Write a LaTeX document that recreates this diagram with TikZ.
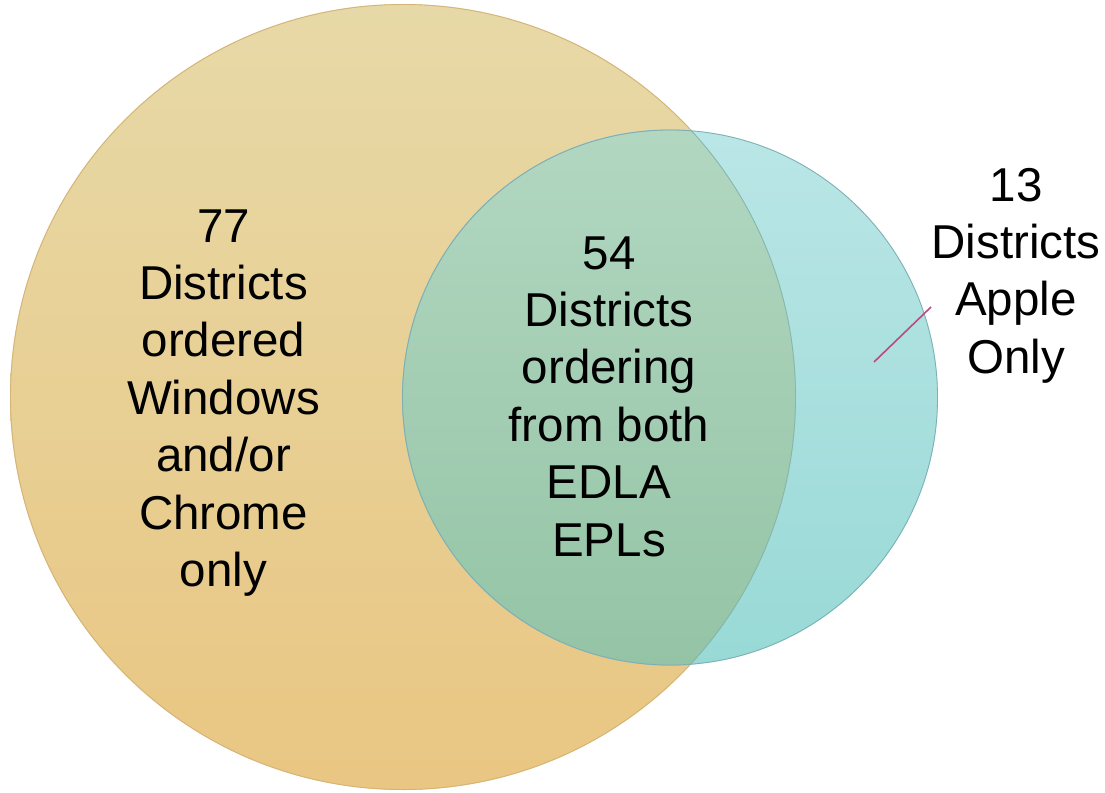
\documentclass[tikz,border=0pt]{standalone}
\usepackage{fontspec}
\setmainfont{Liberation Sans}
\definecolor{tanTop}{RGB}{231,217,167}
\definecolor{tanBot}{RGB}{233,198,130}
\definecolor{tanEdge}{RGB}{212,180,120}
\definecolor{cyTop}{RGB}{186,230,230}
\definecolor{cyBot}{RGB}{152,217,214}
\definecolor{cyEdge}{RGB}{125,175,178}
\definecolor{grTop}{RGB}{178,215,193}
\definecolor{grBot}{RGB}{148,196,165}
\definecolor{pinkLine}{RGB}{185,75,130}
\tikzset{
  lbl/.style={anchor=base, inner sep=0pt, font=\fontsize{47.5pt}{57.4pt}\selectfont},
  leader/.style={draw=pinkLine, line width=1.6pt}
}
\newcommand{\vlines}[1]{\begin{tabular}[t]{@{}c@{}}#1\end{tabular}}
\begin{document}
\begin{tikzpicture}[x=1pt,y=-1pt]
\useasboundingbox (0,0) rectangle (1105,792);
\coordinate (cL) at (403,397);
\coordinate (cS) at (670,397.5);
% large circle
\shade[top color=tanTop, bottom color=tanBot] (cL) circle (393);
\draw[tanEdge, line width=0.9pt] (cL) circle (392.5);
% small circle
\shade[top color=cyTop, bottom color=cyBot] (cS) circle (268);
\begin{scope}
  \clip (cL) circle (393);
  \shade[top color=grTop, bottom color=grBot] (cS) circle (268);
  \draw[cyEdge!80!black!60, line width=0.8pt] (cS) circle (267.5);
\end{scope}
\begin{scope}
  \clip (cS) circle (268);
  \draw[cyEdge!70!grBot, line width=0.8pt] (cL) circle (392.5);
\end{scope}
\draw[cyEdge, line width=0.8pt] (cS) circle (267.5);
% labels
\node[lbl] (left) at (223.5,242) {\vlines{77\\Districts\\ordered\\Windows\\and/or\\Chrome\\only}};
\node[lbl] (mid) at (609,269) {\vlines{54\\Districts\\ordering\\from both\\EDLA\\EPLs}};
\node[lbl] (right) at (1016,201) {\vlines{13\\Districts\\Apple\\Only}};
\coordinate (pt) at (874,362);
\coordinate (lt) at (931,307);
\draw[leader] (lt) -- (pt);
\end{tikzpicture}
\end{document}
